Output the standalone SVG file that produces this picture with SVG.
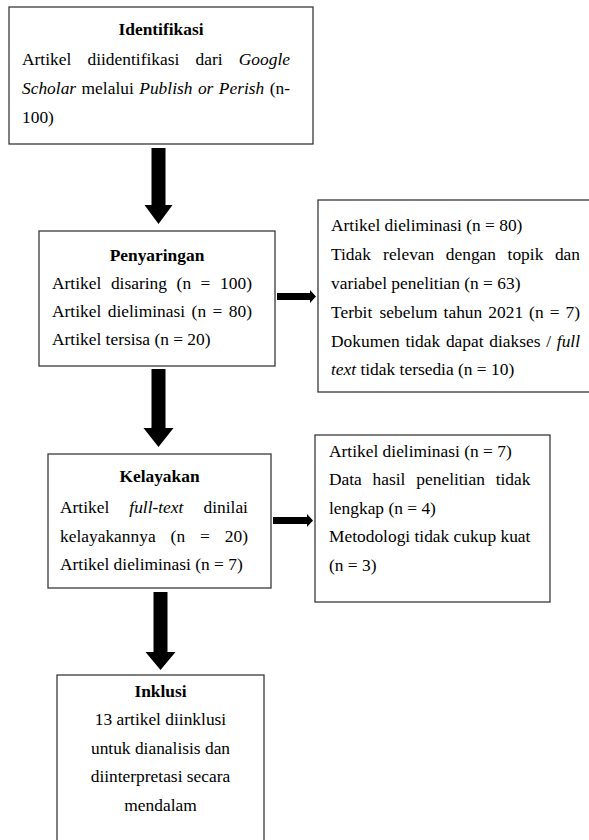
<svg xmlns="http://www.w3.org/2000/svg" width="589" height="840" viewBox="0 0 589 840">
<style>
.box{fill:#fff;stroke:#3a3a3a;stroke-width:1.3}
.t{font-family:"Liberation Serif","Times New Roman",serif;font-size:17.4px;fill:#000}
.h{font-weight:bold;text-anchor:middle}
.c{text-anchor:middle}
.i{font-style:italic}
.arr{fill:#000}
</style>
<rect width="589" height="840" fill="#fff"/>
<g id="connectors">
<polygon class="arr" points="151.5,148 165.5,148 165.5,205 172.5,205 158.5,224 144.5,205 151.5,205"/>
<polygon class="arr" points="151.5,369 165.5,369 165.5,428 173.5,428 158.5,447 143.5,428 151.5,428"/>
<polygon class="arr" points="153.5,592 167.5,592 167.5,652 175.5,652 160.5,670 145.5,652 153.5,652"/>
<polygon class="arr" points="277,293 310,293 310,290 316,296.5 310,303 310,300 277,300"/>
<polygon class="arr" points="273,517 307,517 307,514 313,520.5 307,527 307,524 273,524"/>
</g>
<g id="identifikasi">
<rect class="box" x="9" y="7" width="304" height="137"/>
<text class="t h" x="161" y="35">Identifikasi</text>
<text class="t" y="64.5"><tspan x="22">Artikel</tspan><tspan x="87.5">diidentifikasi</tspan><tspan x="195.5">dari</tspan><tspan x="238.8" class="i">Google</tspan></text>
<text class="t" y="93.5"><tspan x="22" class="i">Scholar</tspan><tspan x="81.6">melalui</tspan><tspan x="139.3" class="i">Publish</tspan><tspan x="197.9" class="i">or</tspan><tspan x="218.8" class="i">Perish</tspan><tspan x="269.7">(n-</tspan></text>
<text class="t" x="22" y="122.5">100)</text>
</g>
<g id="penyaringan">
<rect class="box" x="39" y="231" width="236" height="135"/>
<text class="t h" x="157" y="261">Penyaringan</text>
<text class="t" y="289"><tspan x="52">Artikel</tspan><tspan x="110.9">disaring</tspan><tspan x="176.6">(n</tspan><tspan x="200.6">=</tspan><tspan x="220.1">100)</tspan></text>
<text class="t" y="317"><tspan x="52">Artikel</tspan><tspan x="107.8">dieliminasi</tspan><tspan x="191.6">(n</tspan><tspan x="212.5">=</tspan><tspan x="228.8">80)</tspan></text>
<text class="t" x="52" y="345">Artikel tersisa (n = 20)</text>
</g>
<g id="eliminasi-penyaringan">
<rect class="box" x="318" y="200" width="290" height="192"/>
<text class="t" x="331" y="231">Artikel dieliminasi (n = 80)</text>
<text class="t" y="260"><tspan x="331">Tidak</tspan><tspan x="383.1">relevan</tspan><tspan x="445.8">dengan</tspan><tspan x="507.6">topik</tspan><tspan x="554.9">dan</tspan></text>
<text class="t" x="331" y="289">variabel penelitian (n = 63)</text>
<text class="t" y="318"><tspan x="331">Terbit</tspan><tspan x="379.6">sebelum</tspan><tspan x="443.6">tahun</tspan><tspan x="488.3">2021</tspan><tspan x="529.1">(n</tspan><tspan x="549.7">=</tspan><tspan x="565.5">7)</tspan></text>
<text class="t" y="347"><tspan x="331">Dokumen</tspan><tspan x="405.4">tidak</tspan><tspan x="445.9">dapat</tspan><tspan x="489.3">diakses</tspan><tspan x="546.2">/</tspan><tspan x="556.8" class="i">full</tspan></text>
<text class="t" x="331" y="375"><tspan class="i">text</tspan> tidak tersedia (n = 10)</text>
</g>
<g id="kelayakan">
<rect class="box" x="48" y="454" width="223" height="134"/>
<text class="t h" x="159.5" y="482">Kelayakan</text>
<text class="t" y="513"><tspan x="60">Artikel</tspan><tspan x="129.3" class="i">full-text</tspan><tspan x="203.5">dinilai</tspan></text>
<text class="t" y="542"><tspan x="60">kelayakannya</tspan><tspan x="170.6">(n</tspan><tspan x="200">=</tspan><tspan x="224.8">20)</tspan></text>
<text class="t" x="60" y="570">Artikel dieliminasi (n = 7)</text>
</g>
<g id="eliminasi-kelayakan">
<rect class="box" x="315" y="435" width="235" height="167"/>
<text class="t" x="329" y="457">Artikel dieliminasi (n = 7)</text>
<text class="t" y="485"><tspan x="329">Data</tspan><tspan x="372.6">hasil</tspan><tspan x="416.3">penelitian</tspan><tspan x="495.7">tidak</tspan></text>
<text class="t" x="329" y="514">lengkap (n = 4)</text>
<text class="t" x="329" y="542">Metodologi tidak cukup kuat</text>
<text class="t" x="329" y="571">(n = 3)</text>
</g>
<g id="inklusi">
<rect class="box" x="57" y="675" width="207" height="180"/>
<text class="t h" x="160.5" y="697">Inklusi</text>
<text class="t c" x="160.5" y="725">13 artikel diinklusi</text>
<text class="t c" x="160.5" y="754">untuk dianalisis dan</text>
<text class="t c" x="160.5" y="782">diinterpretasi secara</text>
<text class="t c" x="160.5" y="811">mendalam</text>
</g>
</svg>
